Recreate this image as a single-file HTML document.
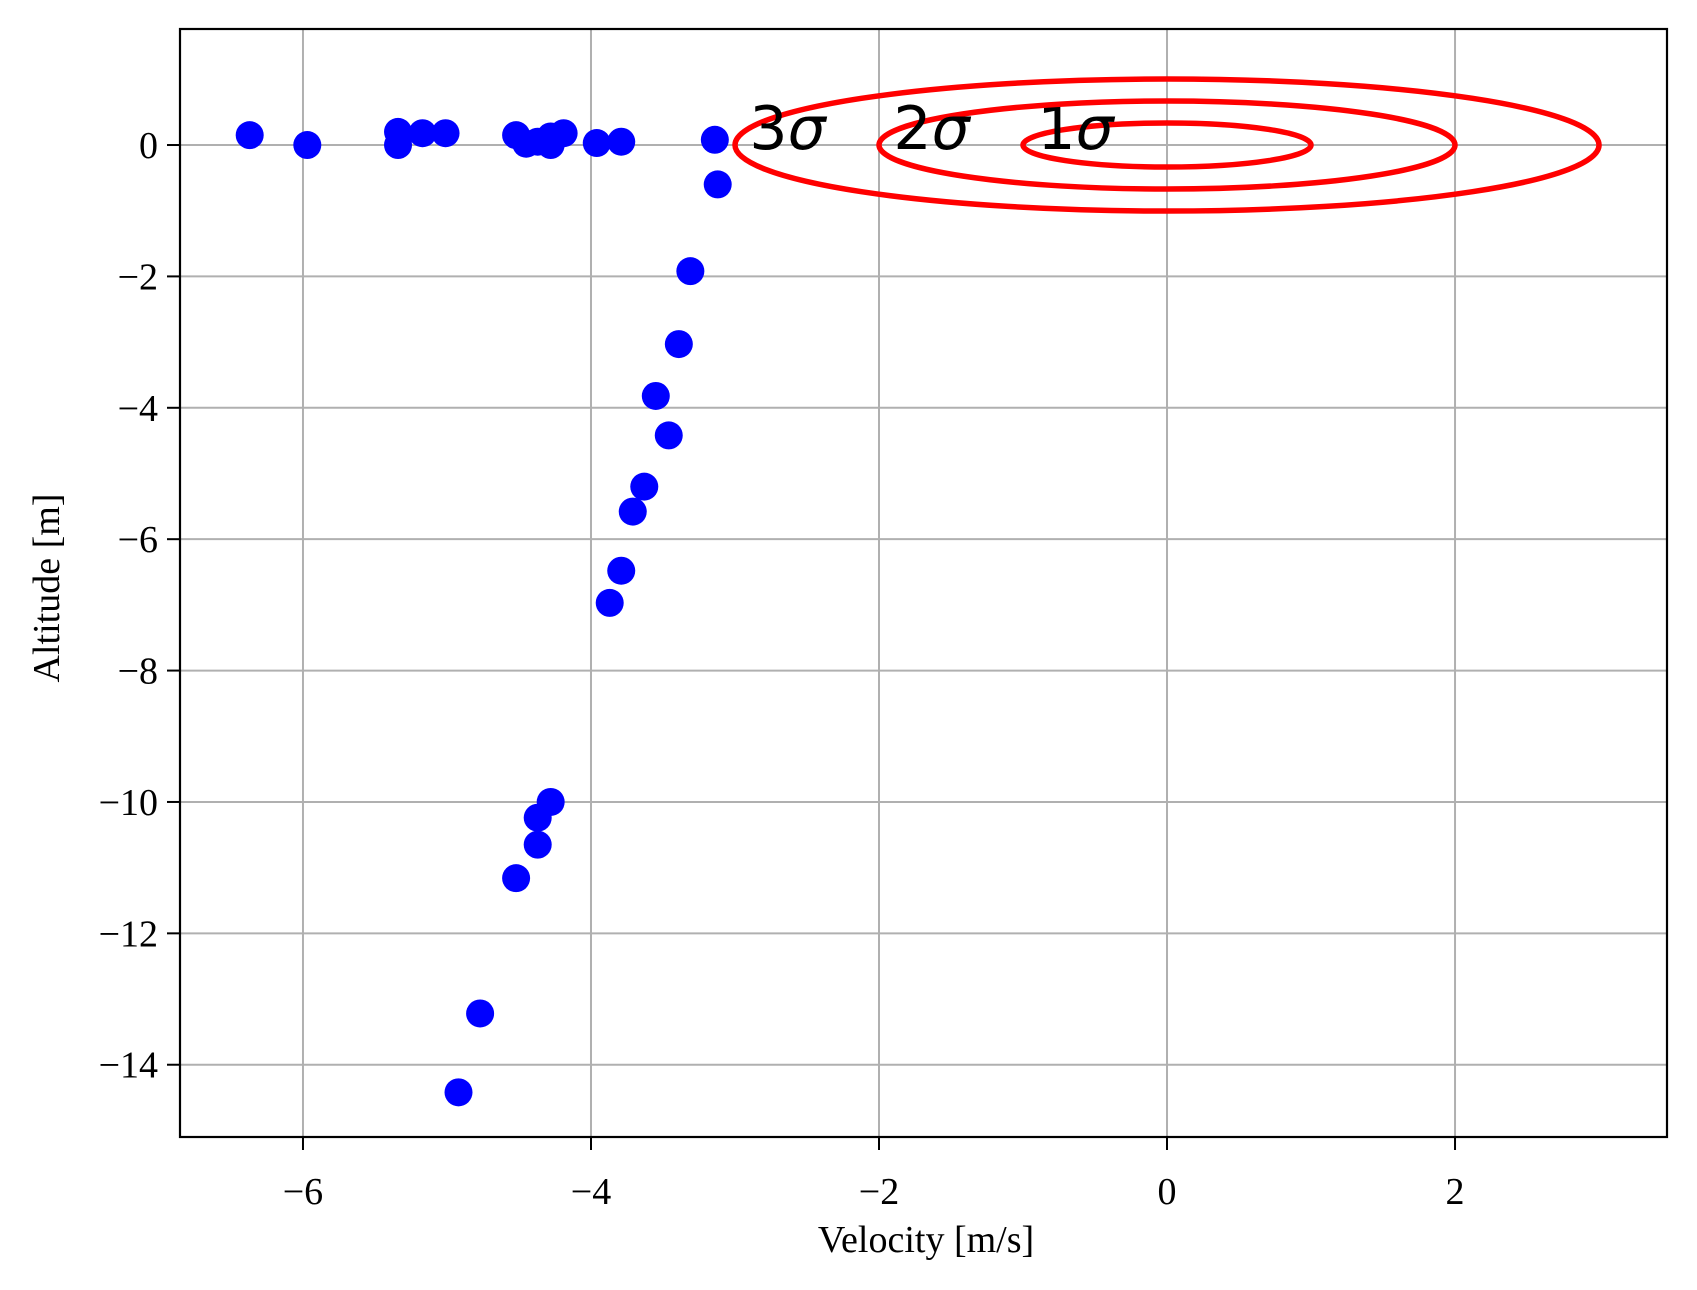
<!DOCTYPE html>
<html><head><meta charset="utf-8"><style>
html,body{margin:0;padding:0;background:#fff;}
svg{display:block;}
text{font-family:"Liberation Serif",serif;fill:#000;}
</style></head><body>
<svg id="chart" width="1697" height="1290" viewBox="0 0 1697 1290" xmlns="http://www.w3.org/2000/svg">
<g id="grid"></g>
<g id="ellipses"></g>
<g id="points"></g>
<rect x="180" y="29" width="1487" height="1108" fill="none" stroke="#000" stroke-width="2.2"/>
<g id="ticks"></g>
<text x="926" y="1252" font-size="38" text-anchor="middle">Velocity [m/s]</text>
<text transform="translate(59,588) rotate(-90)" font-size="38" text-anchor="middle">Altitude [m]</text>
</svg>
<script>
const velocities = [-6.37,-5.97,-5.34,-5.34,-5.17,-5.01,-4.52,-4.45,-4.37,-4.28,-4.28,-4.19,-3.96,-3.79,-3.14,-3.12,-3.31,-3.39,-3.55,-3.46,-3.63,-3.71,-3.79,-3.87,-4.28,-4.37,-4.37,-4.52,-4.77,-4.92];
const altitudes = [0.15,0.0,0.2,0.0,0.18,0.18,0.15,0.02,0.05,0.13,0.0,0.18,0.03,0.05,0.08,-0.6,-1.92,-3.03,-3.82,-4.42,-5.2,-5.58,-6.48,-6.97,-10.0,-10.24,-10.65,-11.16,-13.22,-14.42];
const sigmaLevels = [1,2,3];
const sigmaLabels = ["1σ","2σ","3σ"];
const sigmaX = 1.0;
const sigmaY = 0.335;
const xTicks = [-6,-4,-2,0,2];
const yTicks = [0,-2,-4,-6,-8,-10,-12,-14];
const xMin=-6.854, xMax=3.472, yMin=-15.1, yMax=1.766;
const L=180,R=1667,T=29,B=1137;
const sx=v=>L+(v-xMin)/(xMax-xMin)*(R-L);
const sy=v=>B-(v-yMin)/(yMax-yMin)*(B-T);
const NS="http://www.w3.org/2000/svg";
function mk(tag,attrs,parent){const e=document.createElementNS(NS,tag);for(const k in attrs)e.setAttribute(k,attrs[k]);parent.appendChild(e);return e;}
const grid=document.getElementById('grid'),ticks=document.getElementById('ticks');
const fmt=v=>v<0?'\u2212'+Math.abs(v):String(v);
xTicks.forEach(v=>{
  const x=sx(v);
  const g=mk('line',{x1:x,x2:x,y1:T,y2:B,stroke:'#b0b0b0','stroke-width':2},grid);
  
  
  const t=mk('line',{x1:x,x2:x,y1:B,y2:B+13,stroke:'#000','stroke-width':2},ticks);
  
  
  const l=mk('text',{x:x,y:B+67,'font-size':38,'text-anchor':'middle'},ticks);
  l.textContent=fmt(v);
  
  
});
yTicks.forEach(v=>{
  const y=sy(v);
  const g=mk('line',{x1:L,x2:R,y1:y,y2:y,stroke:'#b0b0b0','stroke-width':2},grid);
  
  
  const t=mk('line',{x1:L-13,x2:L,y1:y,y2:y,stroke:'#000','stroke-width':2},ticks);
  
  
  const l=mk('text',{x:L-22,y:y+13,'font-size':38,'text-anchor':'end'},ticks);
  l.textContent=fmt(v);
  
  
});
const eg=document.getElementById('ellipses');
sigmaLevels.forEach((s,i)=>{
  const e=mk('ellipse',{cx:sx(0),cy:sy(0),rx:sx(s*sigmaX)-sx(0),ry:sy(0)-sy(s*sigmaY),fill:'none',stroke:'#ff0000','stroke-width':5.5},eg);
  
  
  const t=mk('text',{x:sx(-s*sigmaX+0.1),y:sy(-0.06),'font-size':60,style:'font-family:"DejaVu Sans",sans-serif'},eg);
  t.innerHTML=s+'<tspan font-style="italic">σ</tspan>';
  
  
});
const pg=document.getElementById('points');
velocities.forEach((v,i)=>{
  const c=mk('circle',{cx:sx(v),cy:sy(altitudes[i]),r:14,fill:'#0000ff'},pg);
  
  
});
</script>
</body></html>
